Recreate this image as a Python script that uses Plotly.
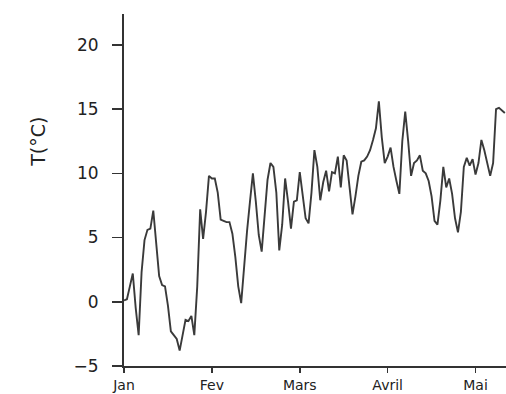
import plotly.graph_objects as go

# Day index since 1 January
days = list(range(131))

# Daily temperature (°C)
temps = [
    0.1, 0.2, 1.2, 2.2, -0.5, -2.6, 2.3, 4.8, 5.6, 5.7,
    7.1, 4.5, 2.0, 1.3, 1.2, -0.3, -2.3, -2.6, -2.9, -3.8,
    -2.6, -1.4, -1.5, -1.1, -2.6, 1.2, 7.2, 4.9, 7.0, 9.8,
    9.6, 9.6, 8.5, 6.4, 6.3, 6.2, 6.2, 5.3, 3.5, 1.2,
    -0.1, 2.8, 5.5, 7.8, 10.0, 7.8, 5.2, 3.9, 6.8, 9.5,
    10.8, 10.5, 8.5, 4.0, 6.0, 9.6, 7.8, 5.7, 7.8, 7.9,
    10.1, 8.4, 6.5, 6.1, 8.5, 11.8, 10.5, 7.9, 9.3, 10.2,
    8.6, 10.1, 10.0, 11.3, 8.9, 11.4, 11.0, 8.9, 6.8, 8.2,
    9.8, 10.9, 11.0, 11.3, 11.8, 12.6, 13.5, 15.6, 12.8, 10.8,
    11.3, 12.0, 10.5, 9.4, 8.4, 12.5, 14.8, 12.5, 9.8, 10.8,
    11.0, 11.4, 10.2, 10.0, 9.4, 8.2, 6.3, 6.0, 7.9, 10.5,
    8.9, 9.6, 8.4, 6.5, 5.4, 7.0, 10.5, 11.2, 10.6, 11.1,
    9.9, 10.8, 12.6, 11.8, 10.9, 9.8, 10.8, 15.0, 15.1, 14.9,
    14.7,
]

month_ticks = [0, 30, 60, 90, 120]
month_labels = ["Jan", "Fev", "Mars", "Avril", "Mai"]
y_ticks = [-5, 0, 5, 10, 15, 20]
y_label = "T(°C)"

FONT = "DejaVu Sans"
AX = "#333333"

fig = go.Figure(
    go.Scatter(
        x=days, y=temps, mode="lines",
        line=dict(color="#3a3a3a", width=1.9),
        hoverinfo="skip",
    )
)

fig.update_layout(
    width=506, height=394,
    margin=dict(l=124, r=0, t=14, b=28, autoexpand=False),
    paper_bgcolor="white", plot_bgcolor="white",
    showlegend=False,
    font=dict(family=FONT, size=17, color="#222222"),
)

fig.update_xaxes(
    range=[0, 130.4],
    tickvals=month_ticks, ticktext=month_labels,
    showgrid=False, zeroline=False,
    showline=True, linecolor=AX, linewidth=2,
    ticks="outside", ticklen=5, tickwidth=1.5, tickcolor=AX,
    ticklabelstandoff=0,
    tickfont=dict(family=FONT, size=14, color="#222222"),
)

fig.update_yaxes(
    range=[-5, 22.4],
    tickvals=y_ticks,
    showgrid=False, zeroline=False,
    showline=True, linecolor=AX, linewidth=2,
    ticks="outside", ticklen=10, tickwidth=1.5, tickcolor=AX,
    ticklabelstandoff=10,
    tickfont=dict(family=FONT, size=17, color="#222222"),
)

fig.add_annotation(
    text=y_label, textangle=-90,
    xref="paper", yref="paper",
    x=-0.225, y=0.637, xanchor="center", yanchor="middle",
    showarrow=False,
    font=dict(family=FONT, size=19, color="#222222"),
)

fig.write_html(
    "out.html",
    config={"displayModeBar": False, "staticPlot": True},
    post_script="document.body.style.margin='0';document.body.style.overflow='hidden';",
)
